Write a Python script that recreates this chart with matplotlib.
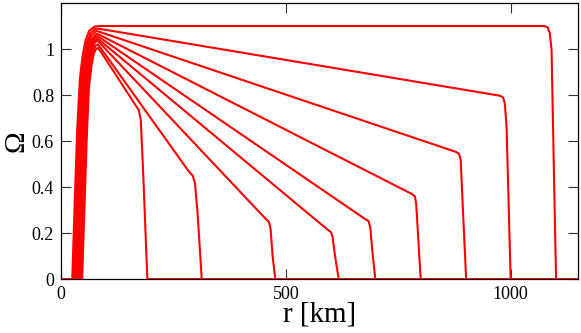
import matplotlib
matplotlib.use('Agg')
import matplotlib.pyplot as plt

plt.rcParams['font.family'] = ['Liberation Serif', 'DejaVu Serif']
plt.rcParams['mathtext.fontset'] = 'stix'

# Omega(r) profiles, one per run (labelled by the radius where they drop to zero)
r_1100 = [0, 25, 30, 36, 42, 48, 55, 63, 75, 90, 1074, 1082, 1087, 1091, 1096, 1101, 1160]
om_1100 = [0, 0, 0.3, 0.65, 0.87, 0.97, 1.04, 1.08, 1.098, 1.1, 1.1, 1.095, 1.07, 0.996, 0.49, 0, 0]

r_1000 = [0, 27.5, 32.5, 38.5, 44.5, 51, 58, 66, 76, 85, 976, 983, 987, 991, 1000, 1160]
om_1000 = [0, 0, 0.3, 0.65, 0.86, 0.96, 1.03, 1.07, 1.088, 1.088, 0.797, 0.79, 0.764, 0.66, 0, 0]

r_900 = [0, 30, 35, 41, 47, 53, 60, 68, 78, 85, 878, 885, 889, 892, 901, 1160]
om_900 = [0, 0, 0.3, 0.65, 0.86, 0.95, 1.02, 1.06, 1.078, 1.075, 0.553, 0.545, 0.517, 0.38, 0, 0]

r_800 = [0, 33, 38, 44, 50, 56, 63, 71, 79, 85, 780, 787, 790, 793.5, 800, 1160]
om_800 = [0, 0, 0.3, 0.65, 0.86, 0.95, 1.015, 1.05, 1.066, 1.062, 0.37, 0.36, 0.326, 0.21, 0, 0]

r_700 = [0, 36, 41, 47, 53, 59, 66, 73, 80, 86, 677, 684, 688, 692, 699, 1160]
om_700 = [0, 0, 0.3, 0.65, 0.86, 0.95, 1.01, 1.045, 1.056, 1.05, 0.26, 0.252, 0.222, 0.13, 0, 0]

r_620 = [0, 39, 44, 50, 55, 61, 67, 74, 80, 86, 594, 600, 604, 608.7, 617.6, 1160]
om_620 = [0, 0, 0.3, 0.65, 0.85, 0.95, 1.0, 1.035, 1.046, 1.038, 0.213, 0.205, 0.184, 0.11, 0, 0]

r_480 = [0, 41, 46, 51, 57, 63, 69, 75, 81, 87, 456, 462, 466, 470.6, 476.6, 1160]
om_480 = [0, 0, 0.3, 0.6, 0.85, 0.95, 1.0, 1.028, 1.036, 1.025, 0.26, 0.25, 0.22, 0.1, 0, 0]

r_313 = [0, 44, 49, 54, 59, 65, 71, 77, 82, 88, 286, 293, 298, 303.6, 313, 1160]
om_313 = [0, 0, 0.3, 0.6, 0.84, 0.94, 0.99, 1.015, 1.02, 1.005, 0.463, 0.45, 0.416, 0.29, 0, 0]

r_192 = [0, 47, 52, 57, 62, 68, 73, 78, 82, 88, 167, 173, 177.5, 183, 192, 1160]
om_192 = [0, 0, 0.3, 0.6, 0.83, 0.93, 0.98, 1.0, 1.005, 0.99, 0.752, 0.735, 0.69, 0.45, 0, 0]

profiles = [(r_1100, om_1100), (r_1000, om_1000), (r_900, om_900), (r_800, om_800),
            (r_700, om_700), (r_620, om_620), (r_480, om_480), (r_313, om_313),
            (r_192, om_192)]

xticks = [0, 500, 1000]
yticks = [0, 0.2, 0.4, 0.6, 0.8, 1]
ytick_labels = ['0', '0.2', '0.4', '0.6', '0.8', '1']

fig = plt.figure(figsize=(5.81, 3.33), dpi=100)
ax = fig.add_axes([0.105, 0.162, 0.89, 0.829])

for r, om in profiles:
    ax.plot(r, om, color='red', lw=1.5, zorder=3)

ax.set_xlim(0, 1150)
ax.set_ylim(0, 1.2)
ax.set_xticks(xticks)
ax.set_yticks(yticks)
ax.set_yticklabels(ytick_labels)
ax.tick_params(direction='in', length=7, width=0.8, top=True, right=True,
               labelsize=13, pad=5, color='#333333')
for s in ax.spines.values():
    s.set_linewidth(0.9)

ax.set_xlabel('r [km]', fontsize=21, labelpad=-1)
ax.set_ylabel('Ω', fontsize=21, labelpad=2)

fig.savefig('out.png', dpi=100)
